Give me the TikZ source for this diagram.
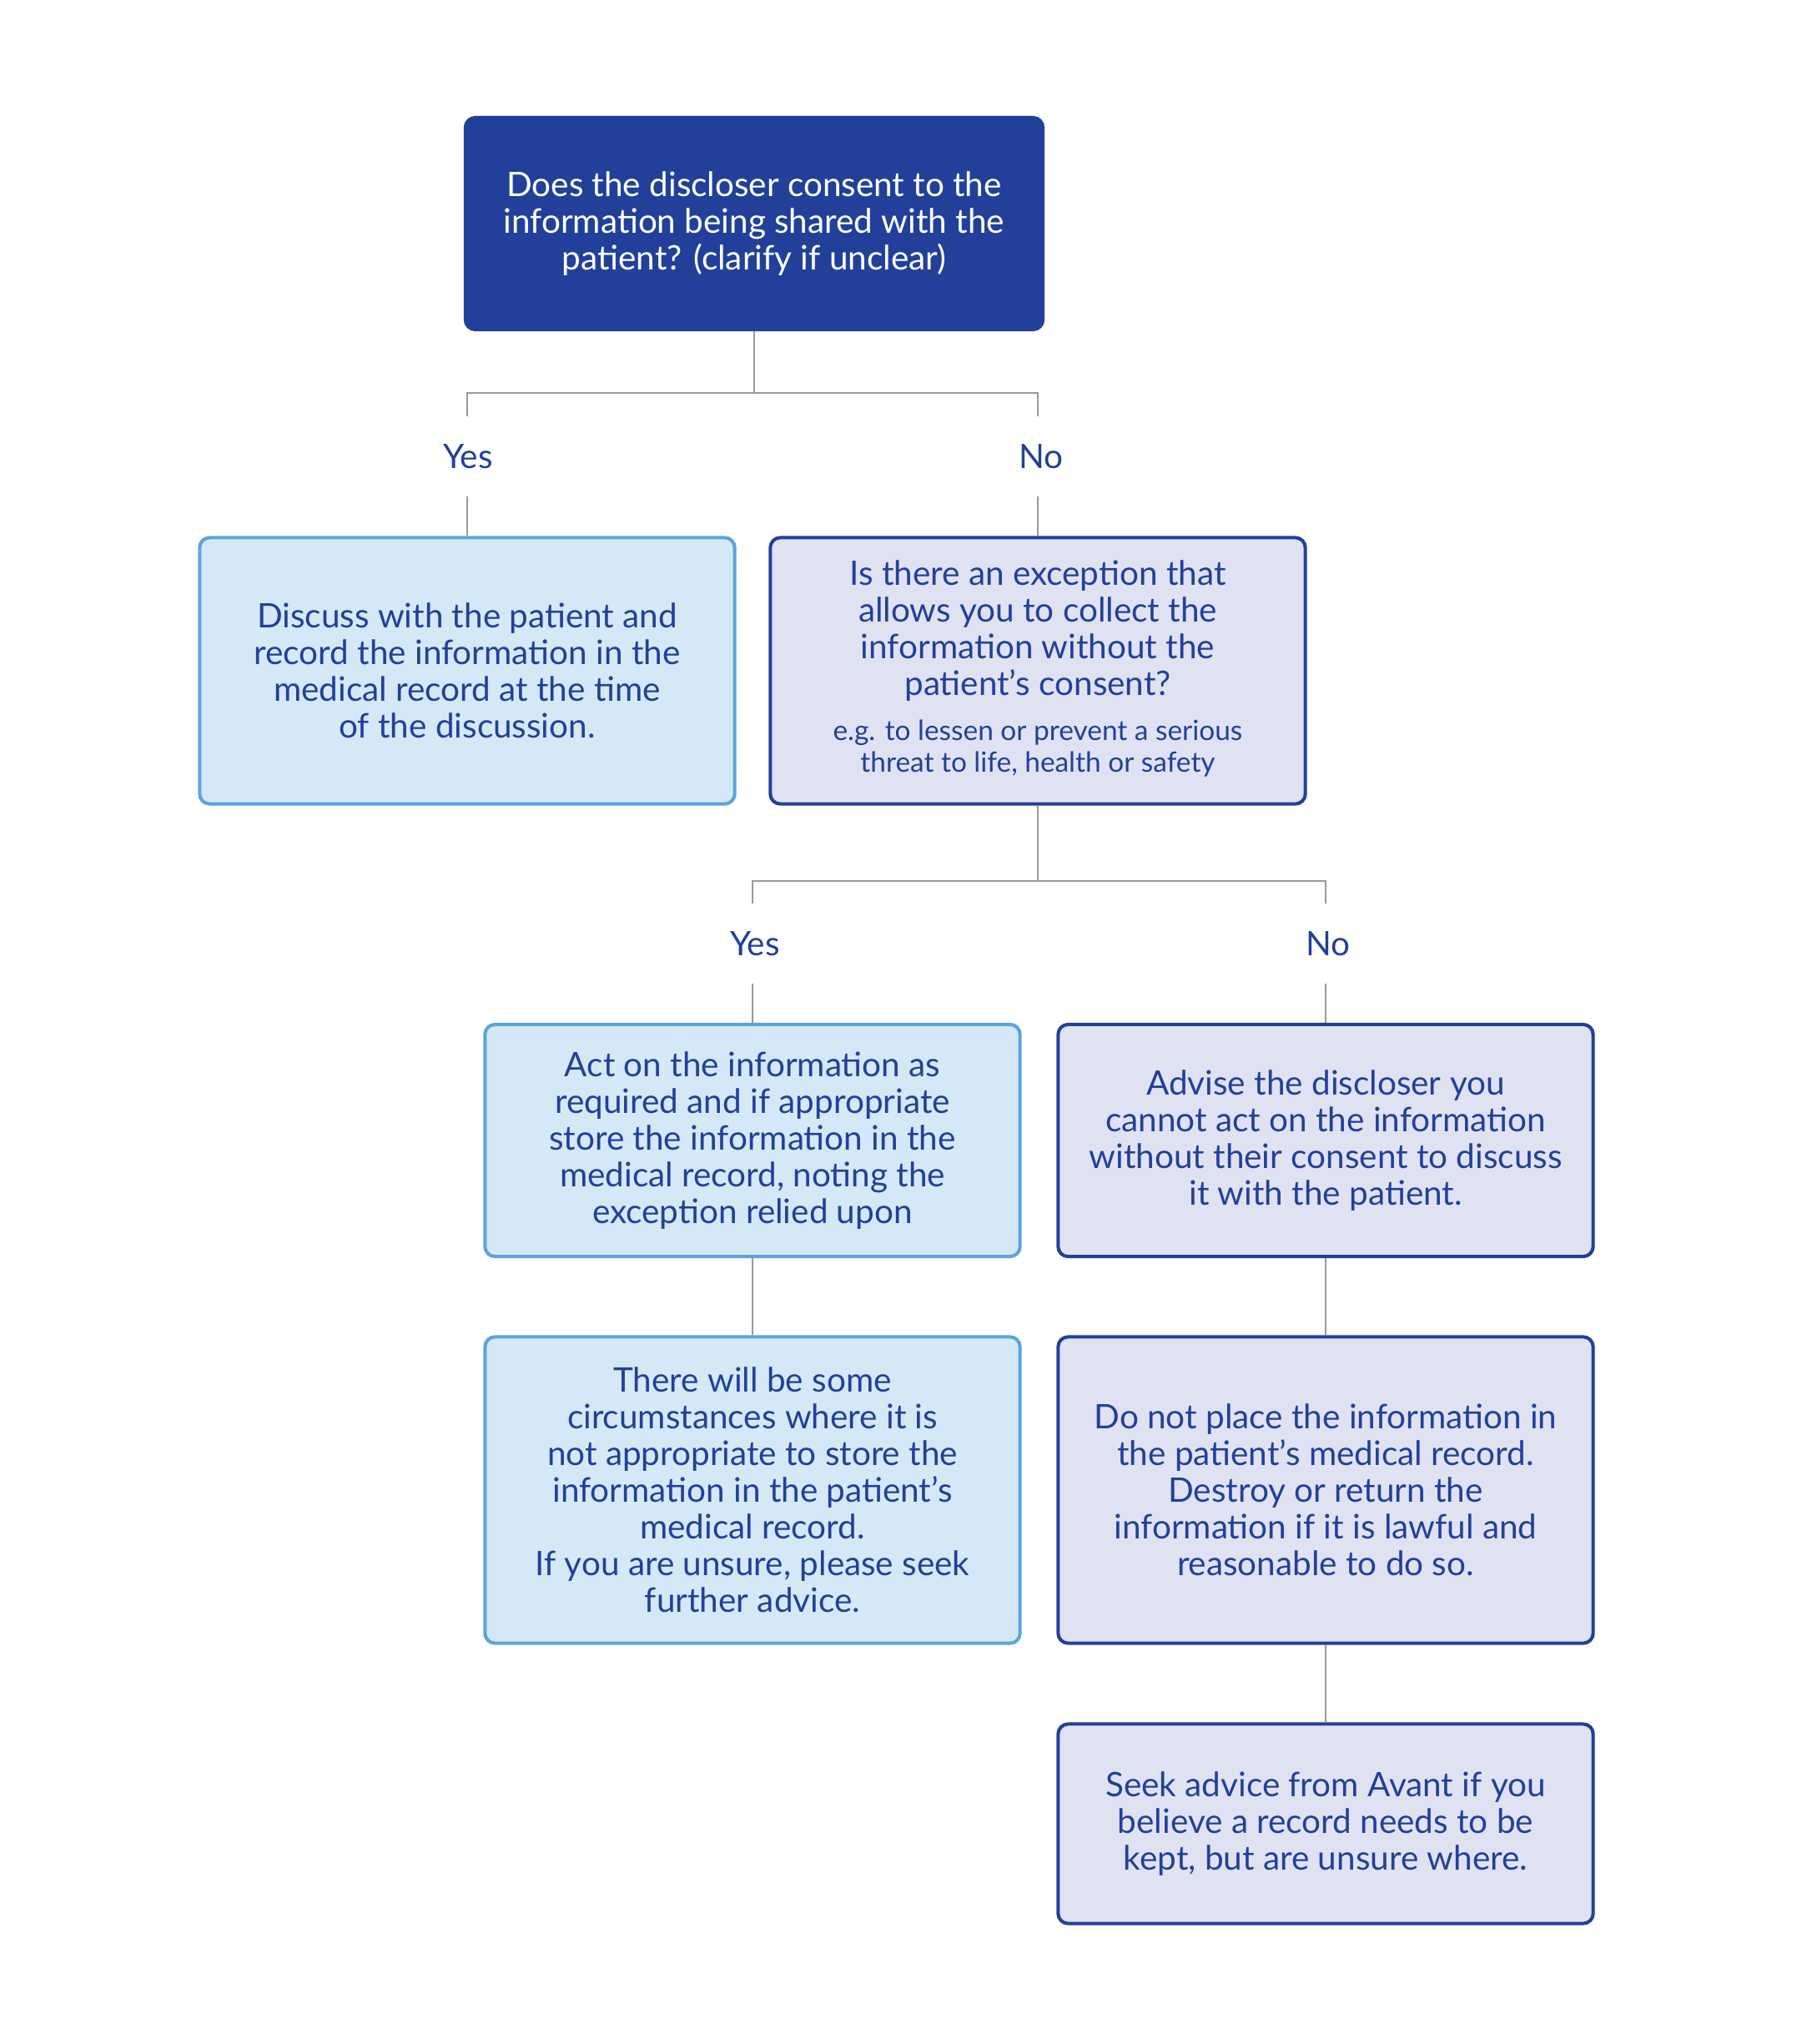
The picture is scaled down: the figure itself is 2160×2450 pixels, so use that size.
\documentclass[tikz,border=0pt]{standalone}
\usepackage{fontspec}
\setmainfont{Lato}
\usepackage{xcolor}
\usepackage{tikz}
\usetikzlibrary{positioning,calc}
\definecolor{avnavy}{HTML}{22409A}
\definecolor{avsky}{HTML}{5AA5DB}
\definecolor{avskyfill}{HTML}{D5E8F6}
\definecolor{avlilac}{HTML}{DFE3F1}
\definecolor{avgrey}{HTML}{9A9A9A}

\begin{document}
\begin{tikzpicture}[x=0.01cm, y=-0.01cm,
    every node/.style={font=\fontsize{11.5}{12.5}\selectfont, text=avnavy, align=center, inner sep=0pt},
    question/.style={draw=avnavy, fill=avnavy, text=white, rounded corners=0.12cm, line width=1.15pt, minimum width=6.92cm, minimum height=2.54cm},
    yesbox/.style={draw=avsky, fill=avskyfill, rounded corners=0.12cm, line width=1.15pt, minimum width=6.41cm},
    nobox/.style={draw=avnavy, fill=avlilac, rounded corners=0.12cm, line width=1.15pt, minimum width=6.41cm},
    answer/.style={minimum height=0.94cm},
    link/.style={draw=avgrey, line width=0.75pt}]
    \useasboundingbox (0,0) rectangle (2160,2450);

    \node[question] (q1) at (904,268) {Does the discloser consent to the\\information being shared with the\\patient? (clarify if unclear)};

    \node[answer] (yesA) at (561,547) {Yes};
    \node[answer] (noA) at (1248,547) {No};

    \node[yesbox, minimum height=3.19cm] (discuss) at (560,804) {Discuss with the patient and\\record the information in the\\medical record at the time\\of the discussion.};
    \node[nobox, minimum height=3.19cm] (q2) at (1244,804) {Is there an exception that\\allows you to collect the\\information without the\\patient's consent?\\[3pt]{\fontsize{9.5}{10.6}\selectfont\begin{tabular}[t]{@{}c@{}}e.g. to lessen or prevent a serious\\threat to life, health or safety\end{tabular}}};

    \node[answer] (yesB) at (905,1131) {Yes};
    \node[answer] (noB) at (1592,1131) {No};

    \node[yesbox, minimum height=2.78cm] (act) at (902,1367) {Act on the information as\\required and if appropriate\\store the information in the\\medical record, noting the\\exception relied upon};
    \node[nobox, minimum height=2.78cm] (advise) at (1589,1367) {Advise the discloser you\\cannot act on the information\\without their consent to discuss\\it with the patient.};

    \node[yesbox, minimum height=3.67cm] (unsure) at (902,1786) {There will be some\\circumstances where it is\\not appropriate to store the\\information in the patient's\\medical record.\\If you are unsure, please seek\\further advice.};
    \node[nobox, minimum height=3.67cm] (destroy) at (1589,1786) {Do not place the information in\\the patient's medical record.\\Destroy or return the\\information if it is lawful and\\reasonable to do so.};

    \node[nobox, minimum height=2.39cm] (avant) at (1589,2186) {Seek advice from Avant if you\\believe a record needs to be\\kept, but are unsure where.};

    \coordinate (j1) at (902,471);
    \coordinate (j2) at (1244,1056);

    \draw[link] (q1.south) -- (q1.south |- j1);
    \draw[link] (discuss.north |- yesA.north) -- (discuss.north |- j1) -- (q2.north |- j1) -- (q2.north |- noA.north);
    \draw[link] (discuss.north |- yesA.south) -- (discuss.north);
    \draw[link] (q2.north |- noA.south) -- (q2.north);

    \draw[link] (q2.south) -- (q2.south |- j2);
    \draw[link] (act.north |- yesB.north) -- (act.north |- j2) -- (advise.north |- j2) -- (advise.north |- noB.north);
    \draw[link] (act.north |- yesB.south) -- (act.north);
    \draw[link] (advise.north |- noB.south) -- (advise.north);

    \draw[link] (act.south) -- (unsure.north);
    \draw[link] (advise.south) -- (destroy.north);
    \draw[link] (destroy.south) -- (avant.north);
\end{tikzpicture}
\end{document}
